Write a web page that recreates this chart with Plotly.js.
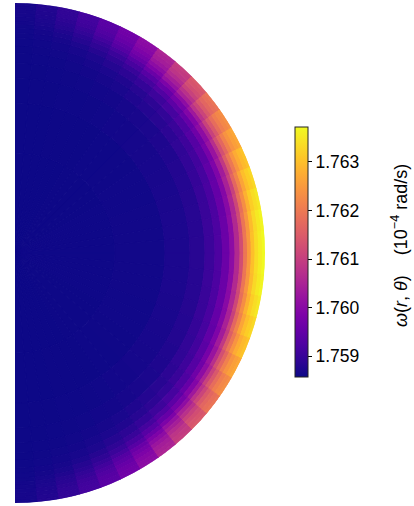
<!DOCTYPE html>
<html>
<head>
<meta charset="utf-8">
<script src="https://cdn.plot.ly/plotly-3.0.1.min.js"></script>
<style>html,body{margin:0;padding:0;background:#fff;}#chart{width:414px;height:506px;}</style>
</head>
<body>
<div id="chart"></div>
<script>
// Radial ring edges, as fraction of the stellar radius r/R
const ringEdges = [0, 0.4, 0.6, 0.7, 0.76, 0.8, 0.83, 0.86, 0.88, 0.9, 0.915, 0.93, 0.945, 0.96, 0.975, 0.99, 1.0];
// Colatitude bin centres (degrees from the north pole), bin width 5 degrees
const colatitude = [2.5, 7.5, 12.5, 17.5, 22.5, 27.5, 32.5, 37.5, 42.5, 47.5, 52.5, 57.5, 62.5, 67.5, 72.5, 77.5, 82.5, 87.5,
  92.5, 97.5, 102.5, 107.5, 112.5, 117.5, 122.5, 127.5, 132.5, 137.5, 142.5, 147.5, 152.5, 157.5, 162.5, 167.5, 172.5, 177.5];
const colatWidth = 5;
// omega(r, theta) in 1e-4 rad/s, one row per ring (inner to outer), one column per colatitude bin
const omega = [
  [1.75857,1.75857,1.75857,1.75857,1.75857,1.75857,1.75858,1.75858,1.75858,1.75858,1.75858,1.75858,1.75859,1.75859,1.75859,1.75859,1.75859,1.75859,
   1.75859,1.75859,1.75859,1.75859,1.75859,1.75859,1.75858,1.75858,1.75858,1.75858,1.75858,1.75858,1.75857,1.75857,1.75857,1.75857,1.75857,1.75857],
  [1.75857,1.75857,1.75857,1.75858,1.75858,1.75858,1.75858,1.75859,1.75859,1.75860,1.75860,1.75861,1.75861,1.75861,1.75862,1.75862,1.75862,1.75862,
   1.75862,1.75862,1.75862,1.75862,1.75861,1.75861,1.75861,1.75860,1.75860,1.75859,1.75859,1.75858,1.75858,1.75858,1.75858,1.75857,1.75857,1.75857],
  [1.75857,1.75858,1.75858,1.75859,1.75859,1.75860,1.75861,1.75863,1.75864,1.75866,1.75867,1.75868,1.75869,1.75870,1.75871,1.75872,1.75872,1.75872,
   1.75872,1.75872,1.75872,1.75871,1.75870,1.75869,1.75868,1.75867,1.75866,1.75864,1.75863,1.75861,1.75860,1.75859,1.75859,1.75858,1.75858,1.75857],
  [1.75858,1.75858,1.75859,1.75860,1.75861,1.75863,1.75864,1.75867,1.75869,1.75871,1.75874,1.75876,1.75878,1.75879,1.75881,1.75882,1.75882,1.75883,
   1.75883,1.75882,1.75882,1.75881,1.75879,1.75878,1.75876,1.75874,1.75871,1.75869,1.75867,1.75864,1.75863,1.75861,1.75860,1.75859,1.75858,1.75858],
  [1.75858,1.75859,1.75860,1.75862,1.75864,1.75867,1.75870,1.75875,1.75879,1.75883,1.75887,1.75891,1.75894,1.75897,1.75900,1.75901,1.75903,1.75903,
   1.75903,1.75903,1.75901,1.75900,1.75897,1.75894,1.75891,1.75887,1.75883,1.75879,1.75875,1.75870,1.75867,1.75864,1.75862,1.75860,1.75859,1.75858],
  [1.75858,1.75860,1.75862,1.75864,1.75868,1.75872,1.75876,1.75882,1.75888,1.75894,1.75901,1.75906,1.75911,1.75915,1.75919,1.75921,1.75923,1.75924,
   1.75924,1.75923,1.75921,1.75919,1.75915,1.75911,1.75906,1.75901,1.75894,1.75888,1.75882,1.75876,1.75872,1.75868,1.75864,1.75862,1.75860,1.75858],
  [1.75859,1.75861,1.75864,1.75868,1.75873,1.75880,1.75887,1.75896,1.75905,1.75915,1.75924,1.75932,1.75939,1.75947,1.75952,1.75956,1.75959,1.75960,
   1.75960,1.75959,1.75956,1.75952,1.75947,1.75939,1.75932,1.75924,1.75915,1.75905,1.75896,1.75887,1.75880,1.75873,1.75868,1.75864,1.75861,1.75859],
  [1.75860,1.75863,1.75867,1.75873,1.75881,1.75890,1.75900,1.75914,1.75927,1.75941,1.75954,1.75966,1.75976,1.75987,1.75994,1.76000,1.76005,1.76006,
   1.76006,1.76005,1.76000,1.75994,1.75987,1.75976,1.75966,1.75954,1.75941,1.75927,1.75914,1.75900,1.75890,1.75881,1.75873,1.75867,1.75863,1.75860],
  [1.75861,1.75865,1.75871,1.75880,1.75890,1.75902,1.75917,1.75935,1.75954,1.75972,1.75991,1.76007,1.76022,1.76036,1.76047,1.76055,1.76061,1.76063,
   1.76063,1.76061,1.76055,1.76047,1.76036,1.76022,1.76007,1.75991,1.75972,1.75954,1.75935,1.75917,1.75902,1.75890,1.75880,1.75871,1.75865,1.75861],
  [1.75862,1.75868,1.75876,1.75886,1.75900,1.75916,1.75935,1.75959,1.75983,1.76007,1.76031,1.76052,1.76071,1.76090,1.76103,1.76114,1.76122,1.76125,
   1.76125,1.76122,1.76114,1.76103,1.76090,1.76071,1.76052,1.76031,1.76007,1.75983,1.75959,1.75935,1.75916,1.75900,1.75886,1.75876,1.75868,1.75862],
  [1.75864,1.75871,1.75881,1.75894,1.75911,1.75932,1.75956,1.75986,1.76017,1.76047,1.76078,1.76105,1.76129,1.76153,1.76170,1.76183,1.76194,1.76197,
   1.76197,1.76194,1.76183,1.76170,1.76153,1.76129,1.76105,1.76078,1.76047,1.76017,1.75986,1.75956,1.75932,1.75911,1.75894,1.75881,1.75871,1.75864],
  [1.75865,1.75873,1.75884,1.75900,1.75920,1.75943,1.75971,1.76006,1.76041,1.76076,1.76111,1.76143,1.76170,1.76198,1.76217,1.76233,1.76244,1.76248,
   1.76248,1.76244,1.76233,1.76217,1.76198,1.76170,1.76143,1.76111,1.76076,1.76041,1.76006,1.75971,1.75943,1.75920,1.75900,1.75884,1.75873,1.75865],
  [1.75866,1.75875,1.75888,1.75906,1.75928,1.75954,1.75985,1.76025,1.76065,1.76105,1.76145,1.76180,1.76211,1.76242,1.76264,1.76282,1.76295,1.76300,
   1.76300,1.76295,1.76282,1.76264,1.76242,1.76211,1.76180,1.76145,1.76105,1.76065,1.76025,1.75985,1.75954,1.75928,1.75906,1.75888,1.75875,1.75866],
  [1.75867,1.75876,1.75891,1.75910,1.75934,1.75962,1.75996,1.76039,1.76082,1.76125,1.76168,1.76207,1.76240,1.76274,1.76298,1.76317,1.76331,1.76336,
   1.76336,1.76331,1.76317,1.76298,1.76274,1.76240,1.76207,1.76168,1.76125,1.76082,1.76039,1.75996,1.75962,1.75934,1.75910,1.75891,1.75876,1.75867],
  [1.75867,1.75877,1.75892,1.75912,1.75937,1.75967,1.76002,1.76047,1.76092,1.76137,1.76182,1.76222,1.76257,1.76292,1.76317,1.76337,1.76352,1.76357,
   1.76357,1.76352,1.76337,1.76317,1.76292,1.76257,1.76222,1.76182,1.76137,1.76092,1.76047,1.76002,1.75967,1.75937,1.75912,1.75892,1.75877,1.75867],
  [1.75867,1.75878,1.75893,1.75914,1.75939,1.75970,1.76006,1.76053,1.76099,1.76145,1.76192,1.76233,1.76269,1.76305,1.76331,1.76351,1.76367,1.76372,
   1.76372,1.76367,1.76351,1.76331,1.76305,1.76269,1.76233,1.76192,1.76145,1.76099,1.76053,1.76006,1.75970,1.75939,1.75914,1.75893,1.75878,1.75867]
];
const cbTicks = [1.759, 1.760, 1.761, 1.762, 1.763];
const cbTickText = ['1.759', '1.760', '1.761', '1.762', '1.763'];
const cRange = [1.75857, 1.76372];
const plasma = [
  [0.0, '#0d0887'], [0.0625, '#2e0595'], [0.125, '#4c02a1'], [0.1875, '#6600a7'],
  [0.25, '#7e03a8'], [0.3125, '#9511a1'], [0.375, '#aa2395'], [0.4375, '#bc3587'],
  [0.5, '#cc4778'], [0.5625, '#da5a6a'], [0.625, '#e66c5c'], [0.6875, '#f0804e'],
  [0.75, '#f89540'], [0.8125, '#fdac33'], [0.875, '#fdc527'], [0.9375, '#f8df25'], [1.0, '#f0f921']
];

// colour of a value on the plasma scale (used for the cell outlines so seams do not show)
function hexRgb(h) { return [parseInt(h.slice(1, 3), 16), parseInt(h.slice(3, 5), 16), parseInt(h.slice(5, 7), 16)]; }
function plasmaColor(v) {
  let t = (v - cRange[0]) / (cRange[1] - cRange[0]);
  t = Math.max(0, Math.min(1, t));
  for (let k = 1; k < plasma.length; k++) {
    if (t <= plasma[k][0]) {
      const a = plasma[k - 1], b = plasma[k];
      const f = (t - a[0]) / (b[0] - a[0]);
      const ca = hexRgb(a[1]), cb = hexRgb(b[1]);
      return 'rgb(' + ca.map((c, i) => Math.round(c + (cb[i] - c) * f)).join(',') + ')';
    }
  }
  return plasma[plasma.length - 1][1];
}

// Build one polar cell per (ring, colatitude bin)
const rBase = [], rLen = [], th = [], wd = [], col = [], lineCol = [];
for (let i = 0; i < omega.length; i++) {
  for (let j = 0; j < colatitude.length; j++) {
    rBase.push(ringEdges[i]);
    rLen.push(ringEdges[i + 1] - ringEdges[i]);
    th.push(90 - colatitude[j]);   // polar angle: 0 = equator (right), 90 = north pole
    wd.push(colatWidth);
    col.push(omega[i][j]);
    lineCol.push(plasmaColor(omega[i][j]));
  }
}

const font = 'Liberation Sans, Arial, sans-serif';
const trace = {
  type: 'barpolar',
  base: rBase, r: rLen, theta: th, width: wd,
  hoverinfo: 'skip',
  marker: {
    color: col, colorscale: plasma, cmin: cRange[0], cmax: cRange[1],
    line: { width: 1, color: lineCol },
    showscale: true,
    colorbar: {
      x: 295 / 414, xanchor: 'left', xpad: 0,
      y: 1 - 252 / 506, yanchor: 'middle', ypad: 0,
      thickness: 13, thicknessmode: 'pixels',
      len: 250, lenmode: 'pixels',
      outlinewidth: 1, outlinecolor: '#222',
      ticks: 'outside', ticklen: 4, tickwidth: 1, tickcolor: '#000',
      tickvals: cbTicks, ticktext: cbTickText,
      tickfont: { family: font, size: 17.5, color: '#000' }
    }
  }
};

const layout = {
  width: 414, height: 506,
  margin: { l: 0, r: 0, t: 0, b: 0 },
  paper_bgcolor: '#fff',
  showlegend: false,
  polar: {
    domain: { x: [15 / 414, 265 / 414], y: [3 / 506, 503 / 506] },
    sector: [-90, 90],
    hole: 0,
    bgcolor: 'rgba(0,0,0,0)',
    radialaxis: { range: [0, 1], visible: false, showgrid: false, showline: false },
    angularaxis: { visible: false, showgrid: false, showline: false, direction: 'counterclockwise', rotation: 0 },
    barmode: 'overlay'
  },
  annotations: [{
    xref: 'paper', yref: 'paper',
    x: 399 / 414, y: 1 - 246 / 506, xanchor: 'center', yanchor: 'middle',
    textangle: -90, showarrow: false,
    text: '<i>ω</i>(<i>r</i>, <i>θ</i>)\u00A0\u00A0\u00A0\u00A0(10<sup>\u22124</sup> rad/s)',
    font: { family: font, size: 18, color: '#000' }
  }]
};

Plotly.newPlot('chart', [trace], layout, { staticPlot: true, displayModeBar: false });
</script>
</body>
</html>
